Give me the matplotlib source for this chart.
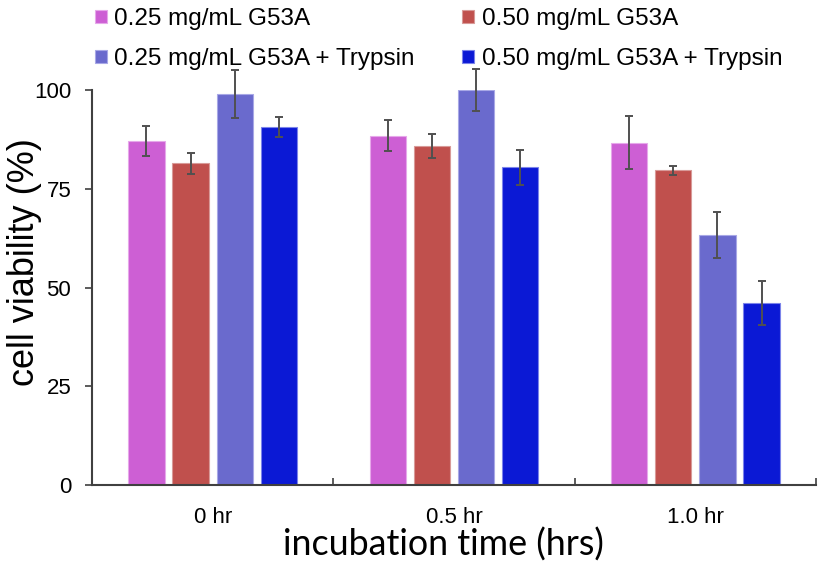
import matplotlib
matplotlib.use("Agg")
import matplotlib.pyplot as plt
import numpy as np

categories = ["0 hr", "0.5 hr", "1.0 hr"]
series_names = ["0.25 mg/mL G53A", "0.50 mg/mL G53A",
                "0.25 mg/mL G53A + Trypsin", "0.50 mg/mL G53A + Trypsin"]
v_025 = [87.2, 88.4, 86.7]
v_050 = [81.4, 85.8, 79.7]
v_025_tryp = [99.0, 99.9, 63.3]
v_050_tryp = [90.6, 80.4, 46.0]
e_025 = [3.8, 3.9, 6.8]
e_050 = [2.6, 3.0, 1.1]
e_025_tryp = [6.1, 5.3, 5.9]
e_050_tryp = [2.6, 4.5, 5.6]
yticks = [0, 25, 50, 75, 100]

values = [v_025, v_050, v_025_tryp, v_050_tryp]
errors = [e_025, e_050, e_025_tryp, e_050_tryp]
colors = ["#CD5FD4", "#C0504D", "#6A6ACD", "#0B19D5"]
edges = ["#E6A8EA", "#D89A98", "#A8A8E6", "#7C84EA"]

fig = plt.figure(figsize=(8.21, 5.61), dpi=100)
ax = fig.add_axes([92/821, 1-485/561, 724/821, 395/561])

x = np.arange(len(categories))
step = 0.183
width = 0.15
handles = []
for i, (vals, errs) in enumerate(zip(values, errors)):
    pos = x + (i - 1.5) * step
    b = ax.bar(pos, vals, width=width, color=colors[i], edgecolor=edges[i],
               linewidth=0.8, label=series_names[i], zorder=2)
    ax.errorbar(pos, vals, yerr=errs, fmt="none", ecolor="#505050",
                elinewidth=1.4, capsize=3, capthick=1.4, zorder=3, clip_on=False)
    handles.append(b)

ax.set_xlim(-0.5, 2.5)
ax.set_ylim(0, 100)
for s in ["top", "right"]:
    ax.spines[s].set_visible(False)
for s in ["left", "bottom"]:
    ax.spines[s].set_color("#404040")
    ax.spines[s].set_linewidth(1.5)

ax.set_yticks(yticks)
ax.set_yticklabels([str(t) for t in yticks], fontsize=16, family="Liberation Sans")
ax.tick_params(axis="y", direction="out", length=5, width=1.2, color="#404040", pad=10)

ax.set_xticks(x)
ax.set_xticklabels(categories, fontsize=16, family="Liberation Sans")
ax.set_xticks([-0.5, 0.5, 1.5, 2.5], minor=True)
ax.tick_params(axis="x", which="major", length=0, pad=16)
ax.tick_params(axis="x", which="minor", direction="in", length=5, width=1.2, color="#404040")

ax.set_ylabel("cell viability (%)", fontsize=26, family="Liberation Sans")
ax.yaxis.set_label_coords(-0.069, 0.565)
ax.set_xlabel("incubation time (hrs)", fontsize=25.8, family="Lato")
ax.xaxis.set_label_coords(0.486, -0.108)

order = [0, 2, 1, 3]
leg = fig.legend([handles[k] for k in order], [series_names[k] for k in order],
                 ncol=2, loc="upper left", bbox_to_anchor=(0.089, 1.025),
                 frameon=False, prop={"family": "Liberation Sans", "size": 17.5},
                 handlelength=0.5, handleheight=0.45, handletextpad=0.3,
                 columnspacing=1.95, labelspacing=0.75)

fig.savefig("out.png", dpi=100)
